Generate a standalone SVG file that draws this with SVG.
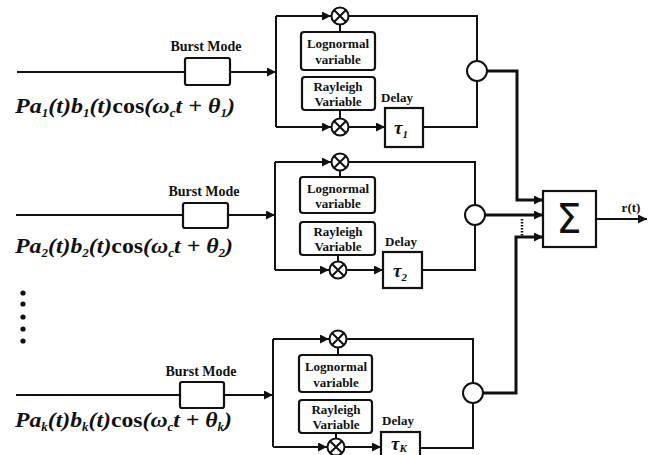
<svg xmlns="http://www.w3.org/2000/svg" width="655" height="455" viewBox="0 0 655 455">
  <style>
    .ln{fill:none;stroke:#111;stroke-width:2}
    .thk{fill:none;stroke:#111;stroke-width:3}
    .box{fill:#fff;stroke:#111;stroke-width:2.2}
    .mul{fill:#fff;stroke:#111;stroke-width:2}
    .lbl{font-family:"Liberation Serif","Times New Roman",serif;font-weight:bold;fill:#111}
    .bm{font-size:14px}
    .var{font-size:13px}
    .dly{font-size:13px}
    .tau{font-family:"Liberation Serif",serif;font-style:italic;font-weight:bold;font-size:19px;fill:#111}
    .tsub{font-size:11px}
    .eq{font-family:"Liberation Serif","Times New Roman",serif;font-style:italic;font-weight:bold;font-size:22px;fill:#111}
    .eq .up{font-style:normal}
    .eq .sb{font-size:12px}
    .sig{font-family:"DejaVu Sans",sans-serif;font-size:40px;fill:#111}
  </style>
  <defs>
    <marker id="arr" markerUnits="userSpaceOnUse" markerWidth="10" markerHeight="9" refX="9" refY="4.5" orient="auto">
      <path d="M0,0 L9,4.5 L0,9 z" fill="#111"/>
    </marker>
    <g id="mx">
      <circle r="8.5" class="mul"/>
      <path d="M-6,-6 L6,6 M6,-6 L-6,6" class="ln"/>
    </g>
  </defs>

  <rect width="655" height="455" fill="#fff"/>

  <!-- connectors -->
  <g id="connectors">
    <!-- branch 1 -->
    <path class="ln" d="M17,72 H185"/>
    <path class="ln" d="M230,72 H276" marker-end="url(#arr)"/>
    <path class="ln" d="M276,16 V127"/>
    <path class="ln" d="M276,16 H331" marker-end="url(#arr)"/>
    <path class="ln" d="M276,127 H331" marker-end="url(#arr)"/>
    <path class="ln" d="M340,25 V32 M340,110 V118"/>
    <path class="ln" d="M349,127 H385" marker-end="url(#arr)"/>
    <path class="ln" d="M349,16 H477 V61"/>
    <path class="ln" d="M423,127 H477 V81"/>
    <path class="thk" d="M487,71 H517 V200 H543" marker-end="url(#arr)"/>

    <!-- branch 2 -->
    <path class="ln" d="M16,215 H183"/>
    <path class="ln" d="M228,215 H275" marker-end="url(#arr)"/>
    <path class="ln" d="M275,162 V270"/>
    <path class="ln" d="M275,162 H331" marker-end="url(#arr)"/>
    <path class="ln" d="M275,270 H329" marker-end="url(#arr)"/>
    <path class="ln" d="M340,171 V177 M338,255 V261"/>
    <path class="ln" d="M347,270 H383" marker-end="url(#arr)"/>
    <path class="ln" d="M349,162 H475 V205"/>
    <path class="ln" d="M422,270 H475 V225"/>
    <path class="thk" d="M485,215 H543" marker-end="url(#arr)"/>

    <!-- branch K -->
    <path class="ln" d="M16,395 H180"/>
    <path class="ln" d="M224,395 H273" marker-end="url(#arr)"/>
    <path class="ln" d="M273,339 V447"/>
    <path class="ln" d="M273,339 H329" marker-end="url(#arr)"/>
    <path class="ln" d="M273,447 H327" marker-end="url(#arr)"/>
    <path class="ln" d="M338,348 V355 M336,433 V438"/>
    <path class="ln" d="M345,447 H381" marker-end="url(#arr)"/>
    <path class="ln" d="M347,339 H473 V383"/>
    <path class="ln" d="M420,448 H473 V403"/>
    <path class="thk" d="M483,393 H516 V237 H543" marker-end="url(#arr)"/>

    <!-- elided inputs between the arrows -->
    <path d="M522,219 V236" fill="none" stroke="#111" stroke-width="2.5" stroke-dasharray="1.5,1.5"/>

    <!-- output -->
    <path class="ln" d="M596,219 H647" marker-end="url(#arr)"/>
  </g>

  <!-- branch 1 -->
  <g id="input1">
    <text class="eq" x="15" y="113" textLength="220" lengthAdjust="spacingAndGlyphs">Pa<tspan class="sb" dy="4">1</tspan><tspan dy="-4">(t)b</tspan><tspan class="sb" dy="4">1</tspan><tspan dy="-4">(t)</tspan><tspan class="up">cos</tspan>(ω<tspan class="sb" dy="4">c</tspan><tspan dy="-4">t + θ</tspan><tspan class="sb" dy="4">1</tspan><tspan dy="-4">)</tspan></text>
  </g>
  <g id="burst1">
    <rect class="box" x="185" y="58" width="45" height="27" rx="2"/>
    <text class="lbl bm" x="206" y="51" text-anchor="middle">Burst Mode</text>
  </g>
  <g id="mulTop1"><use href="#mx" x="340" y="16"/></g>
  <g id="lognormal1">
    <rect class="box" x="301" y="32" width="74" height="38" rx="3"/>
    <text class="lbl var" x="338" y="48" text-anchor="middle">Lognormal</text>
    <text class="lbl var" x="338" y="64" text-anchor="middle">variable</text>
  </g>
  <g id="rayleigh1">
    <rect class="box" x="302" y="77" width="73" height="33" rx="3"/>
    <text class="lbl var" x="338" y="91" text-anchor="middle">Rayleigh</text>
    <text class="lbl var" x="338" y="106" text-anchor="middle">Variable</text>
  </g>
  <g id="mulBot1"><use href="#mx" x="340" y="127"/></g>
  <g id="delay1">
    <text class="lbl dly" x="397" y="102" text-anchor="middle">Delay</text>
    <rect class="box" x="385" y="108" width="38" height="39"/>
    <text class="tau" x="401" y="134" text-anchor="middle">τ<tspan class="tsub" dy="4">1</tspan></text>
  </g>
  <g id="sum1"><circle class="mul" cx="477" cy="71" r="10"/></g>

  <!-- branch 2 -->
  <g id="input2">
    <text class="eq" x="15" y="253" textLength="218" lengthAdjust="spacingAndGlyphs">Pa<tspan class="sb" dy="4">2</tspan><tspan dy="-4">(t)b</tspan><tspan class="sb" dy="4">2</tspan><tspan dy="-4">(t)</tspan><tspan class="up">cos</tspan>(ω<tspan class="sb" dy="4">c</tspan><tspan dy="-4">t + θ</tspan><tspan class="sb" dy="4">2</tspan><tspan dy="-4">)</tspan></text>
  </g>
  <g id="burst2">
    <rect class="box" x="183" y="203" width="45" height="25" rx="2"/>
    <text class="lbl bm" x="204" y="196" text-anchor="middle">Burst Mode</text>
  </g>
  <g id="mulTop2"><use href="#mx" x="340" y="162"/></g>
  <g id="lognormal2">
    <rect class="box" x="300" y="177" width="75" height="36" rx="3"/>
    <text class="lbl var" x="338" y="193" text-anchor="middle">Lognormal</text>
    <text class="lbl var" x="338" y="208" text-anchor="middle">variable</text>
  </g>
  <g id="rayleigh2">
    <rect class="box" x="300" y="222" width="75" height="33" rx="3"/>
    <text class="lbl var" x="338" y="236" text-anchor="middle">Rayleigh</text>
    <text class="lbl var" x="338" y="251" text-anchor="middle">Variable</text>
  </g>
  <g id="mulBot2"><use href="#mx" x="338" y="270"/></g>
  <g id="delay2">
    <text class="lbl dly" x="401" y="246" text-anchor="middle">Delay</text>
    <rect class="box" x="383" y="252" width="39" height="36"/>
    <text class="tau" x="400" y="277" text-anchor="middle">τ<tspan class="tsub" dy="4">2</tspan></text>
  </g>
  <g id="sum2"><circle class="mul" cx="475" cy="215" r="10"/></g>

  <!-- vertical ellipsis between branches -->
  <g id="ellipsis" fill="#111">
    <circle cx="23" cy="293" r="2.6"/>
    <circle cx="23" cy="304" r="2.6"/>
    <circle cx="23" cy="317" r="2.6"/>
    <circle cx="23" cy="329" r="2.6"/>
    <circle cx="23" cy="341" r="2.6"/>
  </g>

  <!-- branch K -->
  <g id="inputK">
    <text class="eq" x="15" y="427" textLength="217" lengthAdjust="spacingAndGlyphs">Pa<tspan class="sb" dy="4">k</tspan><tspan dy="-4">(t)b</tspan><tspan class="sb" dy="4">k</tspan><tspan dy="-4">(t)</tspan><tspan class="up">cos</tspan>(ω<tspan class="sb" dy="4">c</tspan><tspan dy="-4">t + θ</tspan><tspan class="sb" dy="4">k</tspan><tspan dy="-4">)</tspan></text>
  </g>
  <g id="burstK">
    <rect class="box" x="180" y="382" width="44" height="26" rx="2"/>
    <text class="lbl bm" x="201" y="376" text-anchor="middle">Burst Mode</text>
  </g>
  <g id="mulTopK"><use href="#mx" x="338" y="339"/></g>
  <g id="lognormalK">
    <rect class="box" x="299" y="355" width="73" height="37" rx="3"/>
    <text class="lbl var" x="336" y="371" text-anchor="middle">Lognormal</text>
    <text class="lbl var" x="336" y="387" text-anchor="middle">variable</text>
  </g>
  <g id="rayleighK">
    <rect class="box" x="299" y="400" width="73" height="33" rx="3"/>
    <text class="lbl var" x="336" y="414" text-anchor="middle">Rayleigh</text>
    <text class="lbl var" x="336" y="429" text-anchor="middle">Variable</text>
  </g>
  <g id="mulBotK"><use href="#mx" x="336" y="447"/></g>
  <g id="delayK">
    <text class="lbl dly" x="398" y="425" text-anchor="middle">Delay</text>
    <rect class="box" x="381" y="432" width="39" height="36"/>
    <text class="tau" x="399" y="450" font-size="17" text-anchor="middle">τ<tspan class="tsub" dy="2">K</tspan></text>
  </g>
  <g id="sumK"><circle class="mul" cx="473" cy="393" r="10"/></g>

  <!-- adder and output -->
  <g id="adder">
    <rect class="box" x="543" y="191" width="53" height="56"/>
    <text class="sig" x="569" y="233" text-anchor="middle">Σ</text>
  </g>
  <g id="output">
    <text class="lbl" font-size="13" x="631" y="212" text-anchor="middle">r(t)</text>
  </g>
</svg>
